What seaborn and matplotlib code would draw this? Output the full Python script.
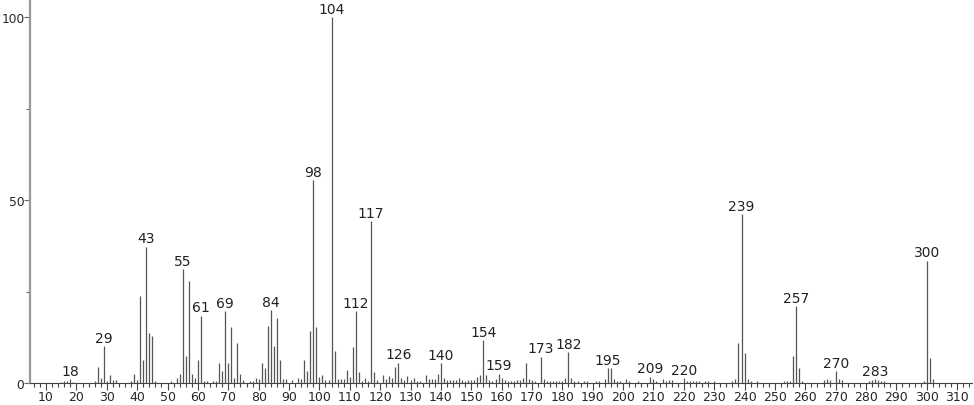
import numpy as np
import matplotlib
matplotlib.use("Agg")
import matplotlib.pyplot as plt
import seaborn as sns
from matplotlib.ticker import MultipleLocator, FixedLocator

# 质谱数据 (m/z, 相对丰度 %)
mz = [15, 16, 17, 18, 19,
      26, 27, 28, 29, 30, 31, 32, 33,
      38, 39, 40, 41, 42, 43, 44, 45, 46,
      51, 53, 54, 55, 56, 57, 58, 59, 60, 61, 62, 63, 65, 66,
      67, 68, 69, 70, 71, 72, 73, 74, 75, 77, 78, 79, 80,
      81, 82, 83, 84, 85, 86, 87, 88, 89, 91, 93, 94, 95, 96, 97, 98, 99, 100,
      101, 102, 103, 104, 105, 106, 107, 108, 109, 110, 111, 112, 113, 114, 115, 116, 117, 118, 119,
      121, 122, 123, 124, 125, 126, 127, 128, 129, 130, 131, 132, 133,
      135, 136, 137, 138, 139, 140, 141, 142, 143, 144, 145, 146, 147, 148, 149, 150,
      151, 152, 153, 154, 155, 156, 157, 158, 159, 160, 161, 162, 163, 164, 165, 166, 167, 168, 169, 170,
      171, 173, 174, 175, 176, 177, 178, 179, 180, 181, 182, 183, 184, 185, 187, 188,
      191, 192, 194, 195, 196, 197, 198, 199, 201, 202, 205, 209, 210, 211, 213, 214, 215, 216,
      220, 221, 222, 223, 224, 225, 227, 228, 230, 236, 237, 238, 239, 240, 241, 242, 244,
      253, 254, 255, 256, 257, 258, 259, 266, 267, 268, 270, 271, 272,
      281, 282, 283, 284, 285, 286, 299, 300, 301, 302]
intensity = [0.4, 0.6, 0.5, 1.0, 0.4,
             0.6, 4.4, 1.5, 10.0, 0.6, 2.2, 0.8, 0.8,
             0.5, 2.5, 0.7, 23.8, 6.4, 37.2, 13.6, 12.9, 0.5,
             0.5, 1.5, 2.5, 31.1, 7.5, 27.9, 2.5, 1.5, 6.2, 18.4, 0.6, 0.6, 0.6, 0.6,
             5.4, 3.3, 19.6, 5.5, 15.2, 1.5, 10.9, 2.5, 0.8, 0.5, 0.6, 1.5, 1.0,
             5.6, 4.0, 15.6, 19.9, 10.1, 17.7, 6.2, 1.0, 1.0, 0.7, 1.3, 1.0, 6.2, 3.3, 14.1, 55.5, 15.2, 1.6,
             2.3, 0.8, 0.8, 100.0, 8.7, 1.0, 1.2, 1.2, 3.5, 1.6, 9.8, 19.6, 3.0, 0.5, 1.5, 0.5, 44.3, 3.0, 0.8,
             2.2, 1.0, 2.0, 1.4, 4.3, 5.6, 1.4, 0.8, 2.0, 0.8, 1.4, 0.6, 0.6,
             2.1, 1.0, 1.1, 1.1, 2.5, 5.4, 1.3, 0.8, 0.8, 0.8, 0.7, 1.3, 0.8, 0.6, 0.8, 0.7,
             0.8, 1.6, 2.1, 11.7, 2.1, 0.8, 0.6, 1.1, 2.5, 1.3, 0.7, 0.6, 0.6, 0.6, 0.7, 0.8, 1.5, 5.5, 1.1, 0.8,
             0.6, 7.2, 1.1, 0.6, 0.6, 0.6, 0.6, 0.6, 0.6, 1.5, 8.4, 1.5, 0.6, 0.6, 0.6, 0.6,
             0.6, 0.6, 1.1, 4.0, 4.0, 1.1, 0.6, 0.6, 1.1, 0.6, 0.6, 1.7, 1.0, 0.6, 1.1, 0.6, 0.8, 0.8,
             1.3, 0.6, 0.6, 0.6, 0.6, 0.6, 0.6, 0.6, 0.6, 0.6, 1.1, 11.0, 46.2, 8.2, 1.1, 0.6, 0.6,
             0.6, 0.6, 0.6, 7.4, 21.0, 4.0, 0.6, 0.8, 1.1, 0.8, 3.2, 1.1, 0.8,
             0.6, 0.8, 1.1, 0.8, 0.6, 0.6, 0.6, 33.4, 6.7, 1.1]

# 标注的峰
labeled_mz = [18, 29, 43, 55, 61, 69, 84, 98, 104, 112, 117, 126, 140, 154,
              159, 173, 182, 195, 209, 220, 239, 257, 270, 283, 300]

sns.set_theme(style="white")
plt.rcParams['font.family'] = ['DejaVu Sans']

fig = plt.figure(figsize=(9.74, 4.06), dpi=100)
ax = fig.add_axes([30 / 974, 22 / 406, 942 / 974, 382 / 406])

peak_color = "#555555"
ax.vlines(mz, 0, intensity, colors=peak_color, linewidth=0.9)

lookup = dict(zip(mz, intensity))
for m in labeled_mz:
    ax.annotate(str(m), xy=(m, lookup[m]), xytext=(0, 1), textcoords="offset points",
                ha="center", va="bottom", fontsize=10, color="#222222")

ax.set_xlim(4.7, 314.9)
ax.set_ylim(0, 104.4)

ax.xaxis.set_major_locator(MultipleLocator(10))
ax.xaxis.set_minor_locator(MultipleLocator(2))
ax.yaxis.set_major_locator(FixedLocator([0, 50, 100]))
ax.yaxis.set_minor_locator(FixedLocator([25, 75]))
ax.set_xticks(np.arange(10, 311, 10))

ax.tick_params(axis="x", which="major", direction="out", length=5, width=0.8,
               color="#444444", labelsize=9, pad=0, bottom=True)
ax.tick_params(axis="x", which="minor", direction="out", length=3, width=0.8,
               color="#444444", bottom=True)
ax.tick_params(axis="y", which="major", direction="out", length=4, width=0.8,
               color="#666666", labelsize=8.8, pad=0, left=True)
ax.tick_params(axis="y", which="minor", direction="out", length=3, width=0.8,
               color="#666666", left=True)

for side in ["top", "right"]:
    ax.spines[side].set_visible(False)
ax.spines["left"].set_color("#999999")
ax.spines["left"].set_linewidth(1.6)
ax.spines["bottom"].set_color("#444444")
ax.spines["bottom"].set_linewidth(0.8)

ax.set_xlabel("")
ax.set_ylabel("")

fig.savefig("out.png", dpi=100)
